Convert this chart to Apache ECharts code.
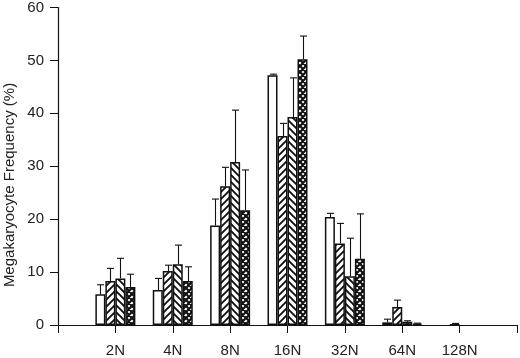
<!DOCTYPE html>
<html>
<head>
<meta charset="utf-8">
<script src="https://cdn.jsdelivr.net/npm/echarts@6/dist/echarts.min.js"></script>
<style>
  html, body { margin: 0; padding: 0; background: #fff; }
  #chart { width: 520px; height: 358px; }
</style>
</head>
<body>
<div id="chart"></div>
<script>
// categories (ploidy classes)
var categories = ['2N', '4N', '8N', '16N', '32N', '64N', '128N'];

// bar heights per group
var openBars    = [5.8, 6.6, 18.8, 47.2, 20.4, 0.5, '-'];
var rightHatch  = [8.3, 10.2, 26.2, 35.7, 15.4, 3.4, 0.05];
var leftHatch   = [8.8, 11.5, 30.8, 39.3, 9.2, 0.6, '-'];
var crossHatch  = [7.2, 8.3, 21.7, 50.2, 12.5, 0.25, '-'];

// top of error bars
var openErr   = [7.6, 8.8, 23.8, 47.4, 21.1, 1.1, null];
var rightErr  = [10.7, 11.3, 29.8, 38.1, 19.2, 4.7, 0.3];
var leftErr   = [12.6, 15.1, 40.6, 46.7, 16.4, 0.8, null];
var crossErr  = [9.6, 11.0, 29.3, 54.6, 21.0, 0.35, null];

var yTicks = [0, 10, 20, 30, 40, 50, 60];

// hatch patterns
function makePattern(kind) {
    var c = document.createElement('canvas');
    var s = kind === 'cross' ? 6 : 7;
    c.width = s; c.height = s;
    var g = c.getContext('2d');
    g.fillStyle = '#fff';
    g.fillRect(0, 0, s, s);
    g.strokeStyle = '#111';
    g.lineWidth = kind === 'cross' ? 2.2 : 1.9;
    g.beginPath();
    if (kind === 'right' || kind === 'cross') {
        g.moveTo(-1, s + 1); g.lineTo(s + 1, -1);
        g.moveTo(-1, 1); g.lineTo(1, -1);
        g.moveTo(s - 1, s + 1); g.lineTo(s + 1, s - 1);
    }
    if (kind === 'left' || kind === 'cross') {
        g.moveTo(-1, -1); g.lineTo(s + 1, s + 1);
        g.moveTo(s - 1, -1); g.lineTo(s + 1, 1);
        g.moveTo(-1, s - 1); g.lineTo(1, s + 1);
    }
    g.stroke();
    return { image: c, repeat: 'repeat' };
}

var axisData = [''].concat(categories).concat(['']);

function pad(arr) {
    return ['-'].concat(arr).concat(['-']);
}

function errData(vals, errs) {
    var out = [];
    for (var i = 0; i < vals.length; i++) {
        if (errs[i] == null || vals[i] === '-') continue;
        out.push([i + 1, vals[i], errs[i]]);
    }
    return out;
}

function errSeries(vals, errs, offset) {
    return {
        type: 'custom',
        silent: true,
        z: 5,
        data: errData(vals, errs),
        encode: { x: 0, y: 2 },
        renderItem: function (params, api) {
            var p0 = api.coord([api.value(0), api.value(1)]);
            var p1 = api.coord([api.value(0), api.value(2)]);
            var cx = Math.round(p0[0] + offset) + 0.5;
            var st = { stroke: '#111', lineWidth: 1.1 };
            return {
                type: 'group',
                children: [
                    { type: 'line', shape: { x1: cx, y1: p0[1], x2: cx, y2: p1[1] }, style: st },
                    { type: 'line', shape: { x1: cx - 3.5, y1: p1[1], x2: cx + 3.5, y2: p1[1] }, style: st }
                ]
            };
        }
    };
}

var chart = echarts.init(document.getElementById('chart'));

function bar(name, data, fill) {
    return {
        type: 'bar',
        name: name,
        barWidth: 10,
        barGap: '0%',
        z: 3,
        data: pad(data),
        itemStyle: { color: fill, borderColor: '#111', borderWidth: 1.5 }
    };
}

var options = {
    animation: false,
    backgroundColor: '#fff',
    grid: { left: 58, right: 2, top: 7, bottom: 32 },
    graphic: [{
        type: 'text',
        x: 10,
        y: 185,
        rotation: Math.PI / 2,
        style: {
            text: 'Megakaryocyte Frequency (%)',
            fill: '#222',
            font: '15px "Liberation Sans"',
            textAlign: 'center',
            textVerticalAlign: 'middle'
        }
    }],
    xAxis: {
        type: 'category',
        data: axisData,
        boundaryGap: false,
        axisLine: { lineStyle: { color: '#111', width: 1.2 } },
        axisTick: { show: true, length: 8, lineStyle: { color: '#111' } },
        axisLabel: { color: '#222', fontFamily: 'Liberation Sans', fontSize: 15, margin: 18, interval: 0 },
        splitLine: { show: false }
    },
    yAxis: {
        type: 'value',
        min: yTicks[0],
        max: yTicks[yTicks.length - 1],
        interval: 10,
        axisLine: { show: true, lineStyle: { color: '#111', width: 1.2 } },
        axisTick: { show: true, length: 8, lineStyle: { color: '#111' } },
        axisLabel: { color: '#222', fontFamily: 'Liberation Sans', fontSize: 15, margin: 14 },
        splitLine: { show: false }
    },
    series: [
        bar('open', openBars, '#fff'),
        bar('right', rightHatch, makePattern('right')),
        bar('left', leftHatch, makePattern('left')),
        bar('cross', crossHatch, makePattern('cross')),
        errSeries(openBars, openErr, -15),
        errSeries(rightHatch, rightErr, -5),
        errSeries(leftHatch, leftErr, 5),
        errSeries(crossHatch, crossErr, 15)
    ]
};

chart.setOption(options);
</script>
</body>
</html>
